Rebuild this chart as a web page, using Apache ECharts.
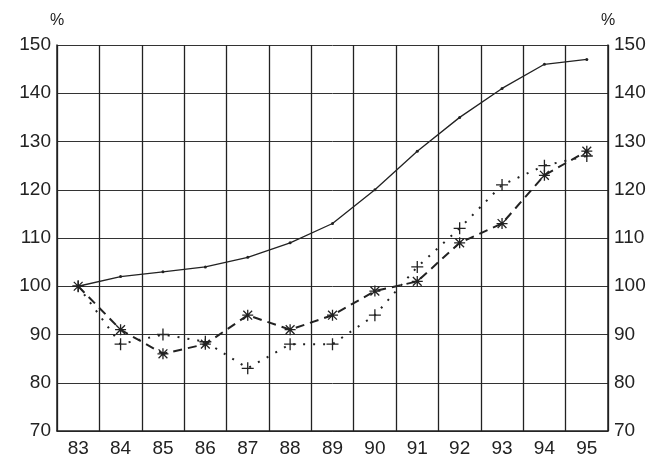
<!DOCTYPE html>
<html>
<head>
<meta charset="utf-8">
<script src="https://cdn.jsdelivr.net/npm/echarts@6/dist/echarts.min.js"></script>
<style>html,body{margin:0;padding:0;background:#fff}#chart{width:658px;height:463px}</style>
</head>
<body>
<div id="chart"></div>
<script>
var years = ['83','84','85','86','87','88','89','90','91','92','93','94','95'];
var solidLine = [100,102,103,104,106,109,113,120,128,135,141,146,147];
var starLine = [100,91,86,88,94,91,94,99,101,109,113,123,128];
var plusLine = [100,88,90,88.5,83,88,88,94,104,112,121,125,127];

var txt = {color:'#222', fontSize:19, fontFamily:'Liberation Sans'};
var myChart = echarts.init(document.getElementById('chart'));
var yAxisBase = {
    type:'value', min:70, max:150, interval:10,
    axisLine:{show:true, lineStyle:{color:'#222', width:1.5}},
    axisTick:{show:false},
    axisLabel:Object.assign({margin:6}, txt),
    splitLine:{show:true, lineStyle:{color:'#333', width:1}},
    name:'%', nameTextStyle:{color:'#222', fontSize:16, fontFamily:'Liberation Sans', padding:[0,0,2,0]}, nameGap:14
};
var option = {
    animation:false,
    grid:{left:57, right:50, top:45, bottom:32},
    xAxis:{
        type:'category', data:years, boundaryGap:true,
        axisLine:{lineStyle:{color:'#222', width:1.5}},
        axisTick:{show:false},
        axisLabel:Object.assign({margin:8}, txt),
        splitLine:{show:true, lineStyle:{color:'#222', width:1.3}}
    },
    yAxis:[
        Object.assign({}, yAxisBase, {position:'left'}),
        Object.assign({}, yAxisBase, {position:'right', splitLine:{show:false}})
    ],
    series:[
        {type:'line', data:solidLine, symbol:'circle', symbolSize:3,
            lineStyle:{color:'#222', width:1.3}, itemStyle:{color:'#222'}},
        {type:'line', data:starLine, symbol:'path://M0,-5L0,5M-5,0L5,0M-4,-4L4,4M-4,4L4,-4', symbolSize:11,
            lineStyle:{color:'#222', width:2, type:[9,6]}, itemStyle:{color:'none', borderColor:'#222', borderWidth:1.3}},
        {type:'line', data:plusLine, symbol:'path://M0,-5L0,5M-5,0L5,0', symbolSize:12,
            lineStyle:{color:'#222', width:2, type:[2,8]}, itemStyle:{color:'none', borderColor:'#222', borderWidth:1.3}}
    ]
};
myChart.setOption(option);
</script>
</body>
</html>
